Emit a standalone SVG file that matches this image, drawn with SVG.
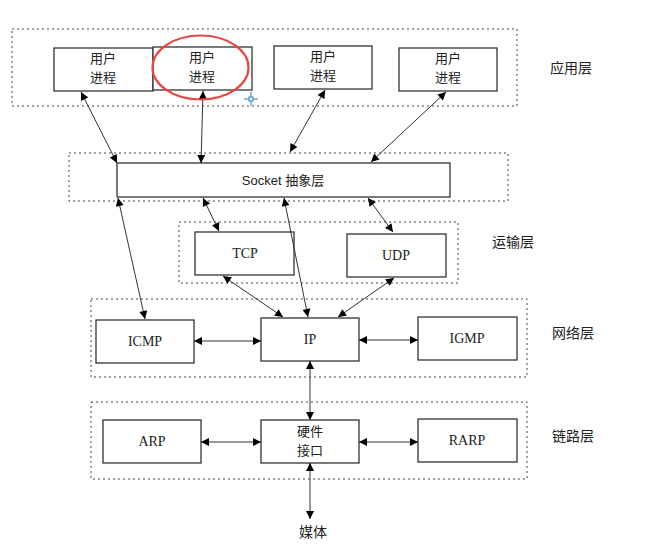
<svg xmlns="http://www.w3.org/2000/svg" width="658" height="558" viewBox="0 0 658 558">
<defs>
<marker id="ah" viewBox="0 0 10 10" refX="10" refY="5" markerWidth="9" markerHeight="8" markerUnits="userSpaceOnUse" orient="auto-start-reverse">
<path d="M0,0 L10,5 L0,10 z" fill="#000"/>
</marker>
<style>
.layer{fill:none;stroke:#444;stroke-width:1;stroke-dasharray:2,3}
.box{fill:#fff;stroke:#333;stroke-width:1.3}
.cn{font-family:"Noto Sans CJK SC","Noto Sans",sans-serif;font-size:13px;fill:#222;text-anchor:middle}
.lb{font-family:"Noto Sans CJK SC",sans-serif;font-size:14px;fill:#222}
.en{font-family:"Liberation Serif","Noto Sans CJK SC",serif;font-size:14px;fill:#222;text-anchor:middle}
.ss{font-family:"Liberation Sans","Noto Sans CJK SC",sans-serif;font-size:13px;fill:#222;text-anchor:middle}
.ln{stroke:#333;stroke-width:1;fill:none;marker-start:url(#ah);marker-end:url(#ah)}
</style>
</defs>
<rect width="658" height="558" fill="#fff"/>

<g id="layers">
<rect class="layer" x="12" y="29" width="505" height="77"/>
<rect class="layer" x="69" y="153" width="439" height="48"/>
<rect class="layer" x="179" y="222" width="279" height="61"/>
<rect class="layer" x="91" y="299" width="436" height="78"/>
<rect class="layer" x="91" y="402" width="436" height="77"/>
</g>

<g id="labels">
<text class="lb" x="550" y="73">应用层</text>
<text class="lb" x="492" y="247">运输层</text>
<text class="lb" x="552" y="338">网络层</text>
<text class="lb" x="552" y="441">链路层</text>
</g>

<g id="p1"><rect class="box" x="54" y="48" width="99" height="43"/><text class="cn" x="103" y="63">用户</text><text class="cn" x="103" y="82">进程</text></g>
<g id="p2"><rect class="box" x="153" y="47" width="99" height="43"/><text class="cn" x="202" y="62">用户</text><text class="cn" x="202" y="81">进程</text></g>
<g id="p3"><rect class="box" x="274" y="46" width="98" height="43"/><text class="cn" x="323" y="61">用户</text><text class="cn" x="323" y="80">进程</text></g>
<g id="p4"><rect class="box" x="399" y="48" width="98" height="43"/><text class="cn" x="448" y="63">用户</text><text class="cn" x="448" y="82">进程</text></g>
<g id="socket"><rect class="box" x="117" y="163" width="333" height="34"/><text class="ss" x="283" y="185">Socket 抽象层</text></g>
<g id="tcp"><rect class="box" x="195" y="232" width="99" height="43"/><text class="en" x="245" y="258">TCP</text></g>
<g id="udp"><rect class="box" x="347" y="234" width="99" height="43"/><text class="en" x="396" y="260">UDP</text></g>
<g id="icmp"><rect class="box" x="96" y="320" width="98" height="43"/><text class="en" x="145" y="346">ICMP</text></g>
<g id="ip"><rect class="box" x="261" y="318" width="98" height="43"/><text class="en" x="310" y="344">IP</text></g>
<g id="igmp"><rect class="box" x="418" y="317" width="99" height="43"/><text class="en" x="467" y="343">IGMP</text></g>
<g id="arp"><rect class="box" x="103" y="420" width="98" height="43"/><text class="en" x="152" y="446">ARP</text></g>
<g id="hw"><rect class="box" x="261" y="420" width="98" height="43"/><text class="cn" x="310" y="436">硬件</text><text class="cn" x="310" y="455">接口</text></g>
<g id="rarp"><rect class="box" x="418" y="419" width="99" height="43"/><text class="en" x="467" y="445">RARP</text></g>
<g id="media"><text class="lb" x="313" y="537" text-anchor="middle">媒体</text></g>

<g id="connectors">
<line class="ln" x1="81" y1="92" x2="117" y2="163"/>
<line class="ln" x1="203" y1="91" x2="201" y2="163"/>
<line class="ln" x1="325" y1="90" x2="290" y2="152"/>
<line class="ln" x1="446" y1="92" x2="371" y2="162"/>
<line class="ln" x1="118" y1="198" x2="145" y2="319"/>
<line class="ln" x1="203" y1="198" x2="219" y2="231"/>
<line class="ln" x1="284" y1="198" x2="308" y2="317"/>
<line class="ln" x1="368" y1="198" x2="393" y2="232"/>
<line class="ln" x1="223" y1="276" x2="283" y2="317"/>
<line class="ln" x1="394" y1="278" x2="338" y2="317"/>
<line class="ln" x1="194" y1="341" x2="261" y2="341"/>
<line class="ln" x1="359" y1="340" x2="418" y2="340"/>
<line class="ln" x1="310" y1="361" x2="310" y2="420"/>
<line class="ln" x1="201" y1="442" x2="261" y2="442"/>
<line class="ln" x1="359" y1="442" x2="418" y2="442"/>
<line class="ln" x1="310" y1="463" x2="310" y2="519"/>
</g>

<g id="mark">
<ellipse cx="200.5" cy="67.5" rx="48" ry="32" fill="none" stroke="#e84545" stroke-width="2.2"/>
<g stroke="#2a7fbf" stroke-width="1" fill="none">
<line x1="244" y1="99" x2="258" y2="99"/>
<line x1="251" y1="92" x2="251" y2="106"/>
<rect x="249" y="97" width="4" height="4" fill="#fff"/>
</g>
</g>
</svg>
